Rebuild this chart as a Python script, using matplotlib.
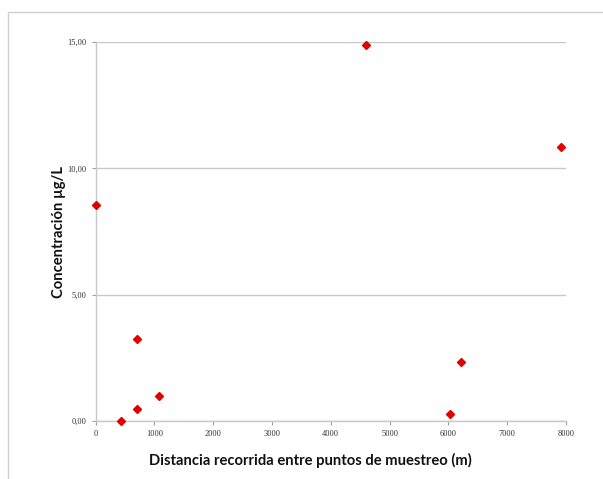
import matplotlib
matplotlib.use("Agg")
import matplotlib.pyplot as plt
from matplotlib.patches import Rectangle
from matplotlib.ticker import FuncFormatter

# distance along the route (m) and concentration (ug/L)
distancia = [0, 440, 697, 697, 1085, 4600, 6030, 6220, 7910]
concentracion = [8.56, 0.01, 3.23, 0.46, 0.99, 14.88, 0.26, 2.33, 10.85]

x_ticks = list(range(0, 8001, 1000))
y_ticks = [0, 5, 10, 15]

fig = plt.figure(figsize=(6.03, 4.79), dpi=100)
# outer chart-area border (cropped at right and bottom)
fig.patches.append(Rectangle((8 / 603, -0.1), 1.2, 1 - 12 / 479 + 0.1,
                             transform=fig.transFigure, fill=False,
                             edgecolor="#d0d0d0", linewidth=1.0))

ax = fig.add_axes([0.1584, 0.1211, 0.7803, 0.7912])
ax.plot(distancia, concentracion, linestyle="none", marker="D",
        markersize=4.3, color="#e00000", markeredgecolor="#e00000",
        clip_on=False, zorder=3)

ax.set_xlim(0, 8000)
ax.set_ylim(0, 15)
ax.set_xticks(x_ticks)
ax.set_yticks(y_ticks)
ax.yaxis.set_major_formatter(FuncFormatter(lambda v, p: f"{v:.2f}".replace(".", ",")))

ax.grid(axis="y", color="#c8c8c8", linewidth=1.0)
ax.set_axisbelow(True)
for side in ("top", "right"):
    ax.spines[side].set_visible(False)
for side in ("left", "bottom"):
    ax.spines[side].set_color("#c8c8c8")
    ax.spines[side].set_linewidth(1.0)

ax.tick_params(axis="both", direction="out", length=3, width=0.8, color="#a0a0a0",
               labelsize=6, labelcolor="#333333")
for lab in ax.get_xticklabels() + ax.get_yticklabels():
    lab.set_fontfamily("Liberation Serif")

ax.set_xlabel("Distancia recorrida entre puntos de muestreo (m)", fontsize=10.6,
              fontweight="bold", family="Lato", color="#111111")
ax.set_ylabel("Concentración µg/L", fontsize=10.6, fontweight="bold",
              family="Lato", color="#111111")
ax.xaxis.set_label_coords(0.456, -0.083)
ax.yaxis.set_label_coords(-0.062, 0.5)

fig.savefig("out.png", dpi=100)
